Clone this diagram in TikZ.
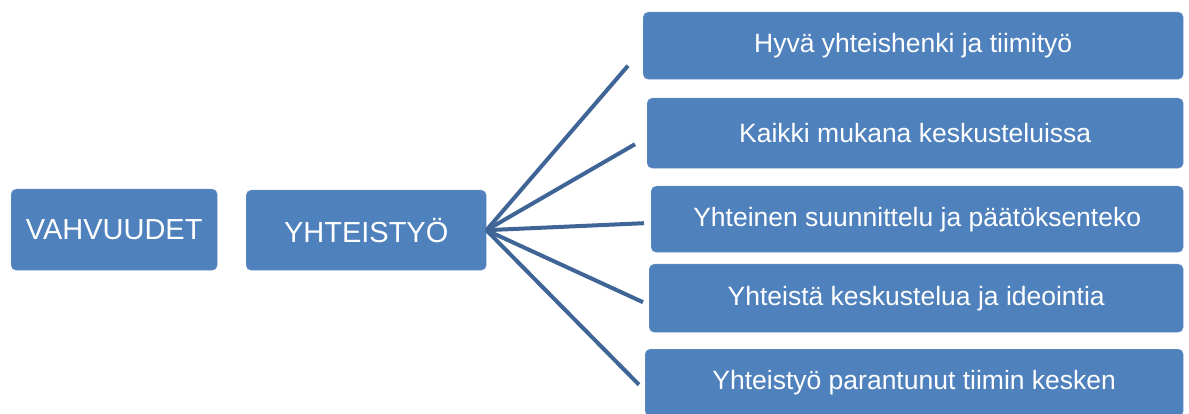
\documentclass[tikz,border=0pt]{standalone}
\usepackage{fontspec}
\setmainfont{Liberation Sans}
\usetikzlibrary{positioning}
\definecolor{boxblue}{HTML}{4F81BD}
\definecolor{lineblue}{HTML}{3F6597}

\begin{document}
\begin{tikzpicture}[x=1pt, y=-1pt,
    box/.style={fill=boxblue, draw=boxblue!85!white, rounded corners=5pt,
        text=white, inner sep=0pt, anchor=north west},
    bigbox/.style={box, font=\fontsize{29}{34}\selectfont},
    itembox/.style={box, minimum width=540pt, font=\fontsize{26.5}{31}\selectfont},
    spoke/.style={draw=lineblue, line width=4pt}]
    \useasboundingbox (0,0) rectangle (1189,414);
    % left part
    \node[bigbox, minimum width=206pt, minimum height=81pt] (vahv) at (11,189) {VAHVUUDET};
    \node[bigbox, minimum width=240pt, minimum height=80pt] (yht) at (246,190) {YHTEISTYÖ};
    % right part
    \node[itembox, minimum width=540pt, minimum height=67pt] (b1) at (643,12) {Hyvä yhteishenki ja tiimityö};
    \node[itembox, minimum width=536pt, minimum height=70pt] (b2) at (647,98) {Kaikki mukana keskusteluissa};
    \node[itembox, minimum width=532pt, minimum height=66pt] (b3) at (651,186) {Yhteinen suunnittelu ja päätöksenteko};
    \node[itembox, minimum width=534pt, minimum height=68pt] (b4) at (649,264) {Yhteistä keskustelua ja ideointia};
    \node[itembox, minimum width=538pt, minimum height=67pt] (b5) at (645,349) {Yhteistyö parantunut tiimin kesken};
    % spoke ends
    \coordinate (e1) at ([xshift=-15pt, yshift=-20pt]b1.west);
    \coordinate (e2) at ([xshift=-12pt, yshift=-11pt]b2.west);
    \coordinate (e3) at ([xshift=-7pt, yshift=-4pt]b3.west);
    \coordinate (e4) at ([xshift=-6pt, yshift=-4pt]b4.west);
    \coordinate (e5) at ([xshift=-6pt, yshift=-2pt]b5.west);
    \foreach \i in {1,...,5} {
        \draw[spoke] (yht.east) -- (e\i);
    }
\end{tikzpicture}
\end{document}
